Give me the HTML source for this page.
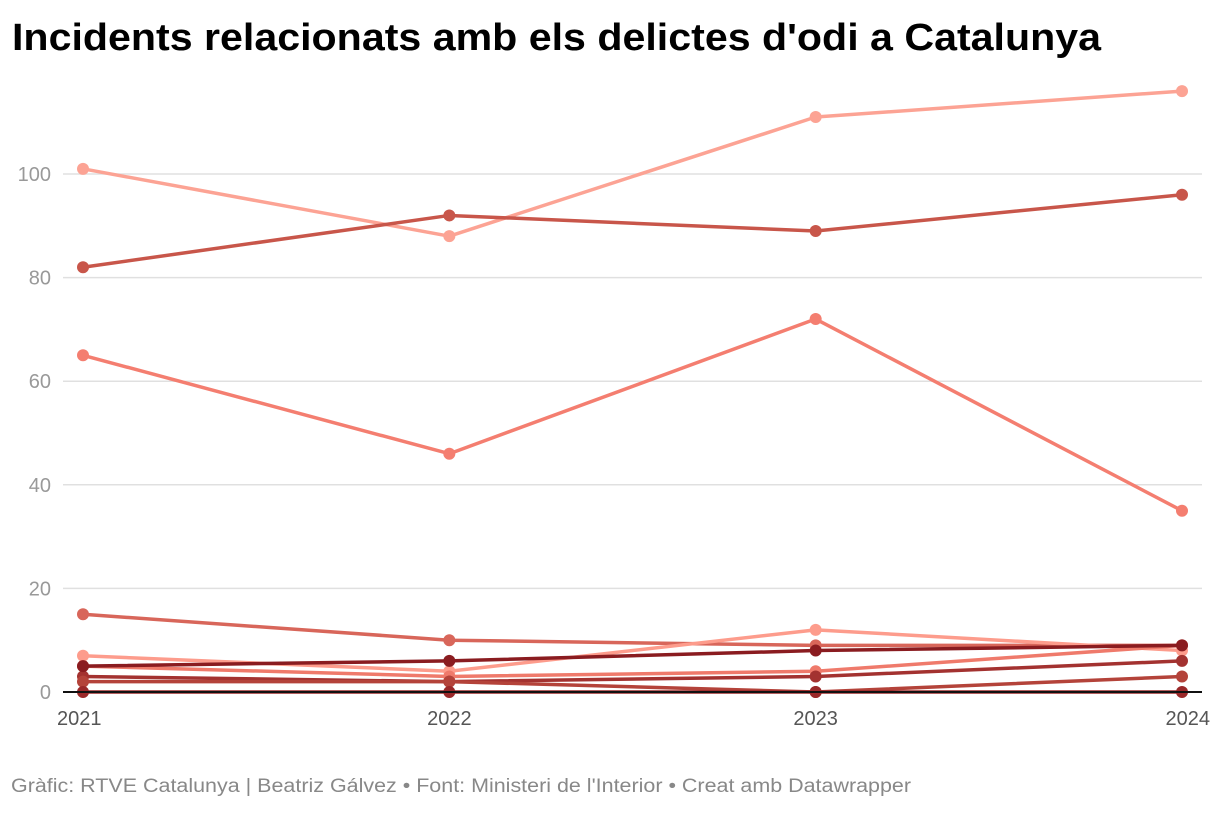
<!DOCTYPE html>
<html><head><meta charset="utf-8"><style>
body{margin:0;background:#fff;font-family:"Liberation Sans",sans-serif;}
</style></head><body>
<svg id="chart" width="1220" height="808" xmlns="http://www.w3.org/2000/svg">
<text x="12" y="50" font-size="38" font-weight="bold" fill="#000" textLength="1089" lengthAdjust="spacingAndGlyphs">Incidents relacionats amb els delictes d'odi a Catalunya</text>
<g id="grid"></g><g id="series"></g>
<text x="11" y="792" font-size="19" fill="#888" textLength="900" lengthAdjust="spacingAndGlyphs">Gràfic: RTVE Catalunya | Beatriz Gálvez • Font: Ministeri de l'Interior • Creat amb Datawrapper</text>
</svg>
<script>
const years=["2021","2022","2023","2024"];
const yTicks=[0,20,40,60,80,100];
const s1=[101,88,111,116];
const s2=[82,92,89,96];
const s3=[65,46,72,35];
const s4=[15,10,9,9];
const s5=[7,4,12,8];
const s6=[5,3,4,9];
const s7=[3,2,3,6];
const s8=[2,2,0,3];
const s9=[0,0,0,0];
const s10=[5,6,8,9];
const series=[[s1,"#fca394"],[s2,"#c8564a"],[s3,"#f47e70"],[s4,"#d8665a"],[s5,"#fd9c8c"],[s6,"#ef7a6b"],[s7,"#a33230"],[s8,"#b4433a"],[s9,"#9a2829"],[s10,"#8a1c20"]];
const NS="http://www.w3.org/2000/svg";
const x=i=>83+i*(1182-83)/3;
const y=v=>692-v*5.18;
const grid=document.getElementById('grid'),sg=document.getElementById('series');
function mk(tag,attrs,parent){const e=document.createElementNS(NS,tag);for(const k in attrs)e.setAttribute(k,attrs[k]);parent.appendChild(e);return e;}
yTicks.forEach(t=>{
  if(t>0){const l=mk('line',{x1:63,x2:1202,y1:y(t),y2:y(t),stroke:'#e0e0e0','stroke-width':1.5},grid);
  
  }
  const tx=mk('text',{x:51,y:y(t)+7,'font-size':20,fill:'#999','text-anchor':'end'},grid);
  tx.textContent=t;
  
  
});
years.forEach((yr,i)=>{
  const anchor=i==0?'start':(i==3?'end':'middle');
  const xx=i==0?57:(i==3?1210:x(i));
  const tx=mk('text',{x:xx,y:725,'font-size':20,fill:'#555','text-anchor':anchor},grid);
  tx.textContent=yr;
  
  
});
series.forEach(([d,c],k)=>{
  const p=mk('polyline',{points:d.map((v,i)=>x(i)+','+y(v)).join(' '),fill:'none',stroke:c,'stroke-width':3.5,'stroke-linejoin':'round'},sg);
  
  
  d.forEach((v,i)=>{const ci=mk('circle',{cx:x(i),cy:y(v),r:6,fill:c},sg);
  
  });
});
const base=mk('line',{x1:63,x2:1202,y1:y(0),y2:y(0),stroke:'#111','stroke-width':2},sg);


</script>
</body></html>
